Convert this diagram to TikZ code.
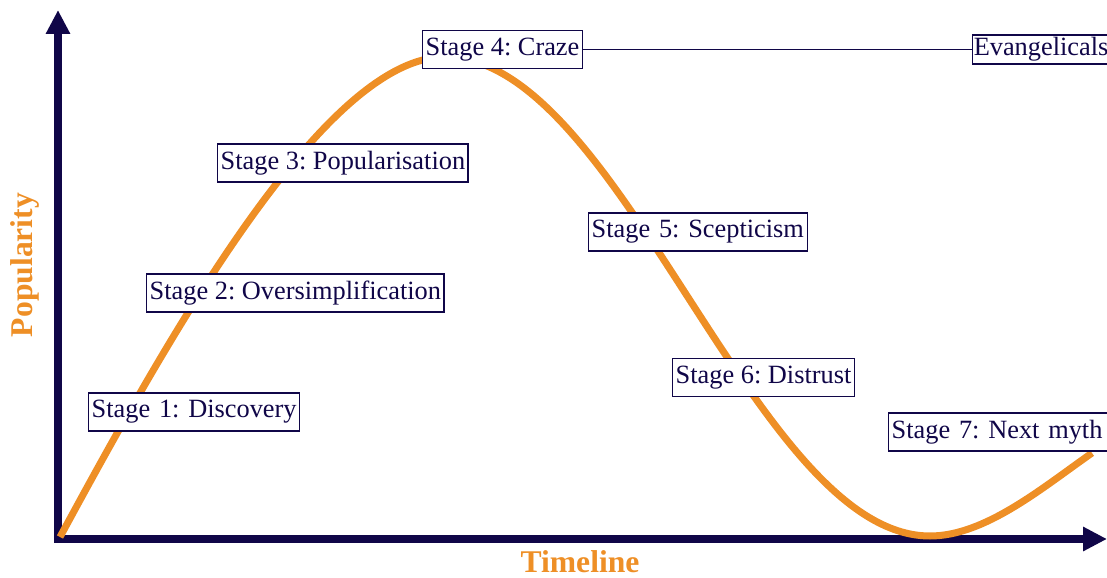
\documentclass[tikz,border=0pt]{standalone}
\usepackage{fontspec}
\setmainfont{Liberation Serif}
\usetikzlibrary{arrows.meta, positioning}
\definecolor{cNavy}{RGB}{16,6,72}
\definecolor{cOrange}{RGB}{238,143,38}
\tikzset{
	stagebox/.style={rectangle, draw=cNavy, line width=0.8pt, fill=white, text=cNavy, anchor=west, minimum height=0.76cm, inner xsep=1.7pt, inner ysep=0pt, align=left, font=\fontsize{15}{18}\selectfont\frenchspacing},
	axisline/.style={draw=cNavy, line width=0.16cm, {Triangle[length=0.48cm, width=0.46cm]}-{Triangle[length=0.48cm, width=0.46cm]}},
	hype/.style={draw=cOrange, line width=0.14cm},
	axislab/.style={text=cOrange, font=\fontsize{18}{21}\selectfont\bfseries},
	link/.style={draw=cNavy, line width=0.8pt},
}
\begin{document}
\begin{tikzpicture}[x=0.02cm, y=-0.02cm]
	\useasboundingbox (0,0) rectangle (1107,578);
	% axes
	\coordinate (ytip) at (58,10);
	\coordinate (origin) at (58,539);
	\coordinate (xtip) at (1107,539);
	\draw[axisline] (ytip) -- (origin) -- (xtip);
	\node[axislab, rotate=90] (ylab) at (25,265) {Popularity};
	\node[axislab] (xlab) at (580,562) {Timeline};
	% hype curve: rise, fall, next rise
	\draw[hype] (60,537) .. controls (170,334) and (325,57) .. (445,57)
		.. controls (621,57) and (754,536) .. (930,536)
		.. controls (985,536) and (1042,488) .. (1092,453);
	% stages
	\node[stagebox, text width=4.1cm] (s1) at (88,412) {Stage 1: Discovery};
	\node[stagebox] (s2) at (146,293) {Stage 2: Oversimplification};
	\node[stagebox] (s3) at (217,163) {Stage 3: Popularisation};
	\node[stagebox] (s4) at (422,49.5) {Stage 4: Craze};
	\node[stagebox, text width=4.26cm] (s5) at (588,232) {Stage 5: Scepticism};
	\node[stagebox] (s6) at (672,377.5) {Stage 6: Distrust};
	\node[stagebox, text width=4.38cm] (s7) at (888,432) {Stage 7: Next myth};
	\node[stagebox, minimum height=0.58cm, inner xsep=0.6pt, text width=2.74cm] (evang) at (972,49.5) {Evangelicals};
	\draw[link] (s4) -- (evang);
\end{tikzpicture}
\end{document}
